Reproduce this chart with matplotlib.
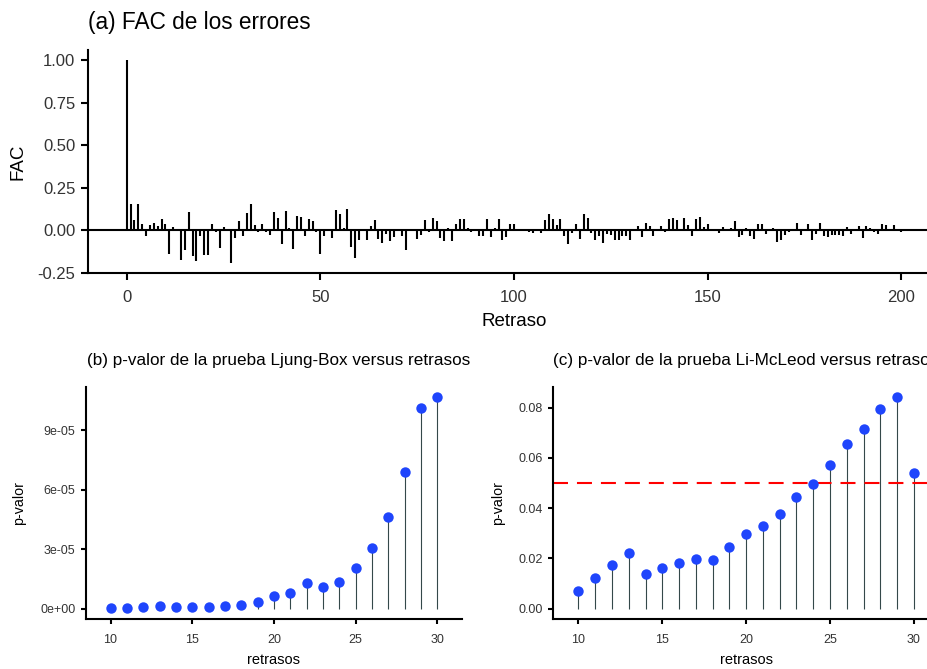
import matplotlib
matplotlib.use("Agg")
import matplotlib.pyplot as plt
import numpy as np

plt.rcParams['font.family'] = ['Liberation Sans', 'DejaVu Sans']

# FAC de los errores, retrasos 0..200
fac = [
    1.000, 0.153, 0.059, 0.157, 0.035, -0.035, 0.030, 0.045, 0.025, 0.069,
    0.035, -0.141, 0.020, 0.004, -0.176, -0.114, 0.106, -0.153, -0.180, -0.030,
    -0.143, -0.143, 0.039, -0.010, -0.104, 0.020, 0.003, -0.190, -0.045, 0.055,
    -0.035, 0.100, 0.157, 0.030, -0.010, 0.039, -0.010, -0.025, 0.106, 0.075,
    -0.078, 0.114, 0.016, -0.108, 0.086, 0.078, -0.035, 0.065, 0.057, -0.010,
    -0.140, -0.033, 0.003, -0.043, 0.118, 0.098, 0.016, 0.127, -0.100, -0.160,
    -0.059, 0.003, -0.059, 0.024, 0.059, -0.049, -0.073, -0.020, -0.065, -0.039,
    0.003, -0.030, -0.114, 0.003, -0.003, -0.053, -0.024, 0.059, -0.010, 0.073,
    0.053, -0.043, -0.063, 0.016, -0.063, 0.039, 0.069, 0.069, 0.016, -0.010,
    0.003, -0.030, -0.033, 0.069, -0.039, 0.016, 0.065, -0.055, -0.039, 0.035,
    0.035, 0.003, -0.003, 0.010, -0.010, -0.014, 0.003, -0.014, 0.063, 0.098,
    0.069, 0.033, 0.069, -0.033, -0.082, -0.014, 0.039, -0.053, 0.098, 0.075,
    -0.014, -0.055, -0.033, -0.073, -0.020, -0.025, -0.055, -0.055, -0.033, -0.035,
    -0.055, 0.003, 0.025, -0.039, 0.043, 0.025, -0.030, 0.003, 0.025, -0.010,
    0.069, 0.073, 0.059, 0.010, 0.073, 0.030, -0.030, 0.069, 0.078, 0.020,
    0.035, 0.003, 0.008, -0.014, 0.020, 0.003, 0.016, 0.055, -0.039, -0.025,
    0.016, -0.035, -0.049, 0.039, 0.035, -0.020, 0.003, 0.016, -0.069, -0.055,
    -0.025, -0.010, 0.003, 0.043, -0.025, 0.003, 0.039, -0.059, -0.020, 0.045,
    -0.033, -0.039, -0.025, -0.025, -0.025, -0.035, 0.020, -0.020, 0.003, 0.025,
    -0.045, 0.025, 0.014, -0.010, -0.020, 0.039, 0.030, 0.003, 0.033, 0.003,
    -0.010,
]
retraso = np.arange(len(fac))

# p-valores por retraso
retrasos = list(range(10, 31))
p_ljung = [3e-7, 3e-7, 8e-7, 1.2e-6, 7e-7, 7e-7, 7e-7, 1.2e-6, 2.0e-6, 3.3e-6,
           6.2e-6, 8.0e-6, 1.32e-5, 1.09e-5, 1.37e-5, 2.04e-5, 3.04e-5, 4.62e-5,
           6.89e-5, 1.012e-4, 1.065e-4]
p_mcleod = [0.0070, 0.0123, 0.0172, 0.0223, 0.0139, 0.0161, 0.0180, 0.0198,
            0.0195, 0.0246, 0.0296, 0.0330, 0.0378, 0.0446, 0.0498, 0.0572,
            0.0656, 0.0716, 0.0796, 0.0841, 0.0540]
nivel = 0.05

W, H = 927, 669
fig = plt.figure(figsize=(W / 100, H / 100), dpi=100)
tick_col = '#333333'


def px_axes(l, t, r, b):
    return fig.add_axes([l / W, 1 - b / H, (r - l) / W, (b - t) / H])


def estilo(ax, lw, tl, fs, pad):
    for s in ['top', 'right']:
        ax.spines[s].set_visible(False)
    for s in ['left', 'bottom']:
        ax.spines[s].set_linewidth(lw)
    ax.tick_params(width=lw, length=tl, labelsize=fs, labelcolor=tick_col, pad=pad)


# (a) FAC
ax = px_axes(88, 50, 940, 273)
ax.vlines(retraso, 0, fac, color='black', linewidth=1.5)
ax.axhline(0, color='black', linewidth=1.5)
ax.set_xlim(-10, 210)
lo, hi = min(fac), max(fac)
ax.set_ylim(lo - 0.05 * (hi - lo), hi + 0.05 * (hi - lo))
ax.set_yticks([-0.25, 0, 0.25, 0.5, 0.75, 1.0])
ax.set_yticklabels(['-0.25', '0.00', '0.25', '0.50', '0.75', '1.00'])
ax.set_xticks([0, 50, 100, 150, 200])
estilo(ax, 1.5, 5, 12, 4)
ax.tick_params(axis='x', pad=7)
ax.set_ylabel('FAC', fontsize=13.5, labelpad=8)
ax.set_xlabel('Retraso', fontsize=13.5, labelpad=6)
fig.text(88 / W, 1 - 22 / H, '(a) FAC de los errores', fontsize=16.3, va='center', ha='left')

# (b) Ljung-Box
stem_col = '#34484A'
dot_col = '#1F45FC'
bx = px_axes(86, 386.7, 461.7, 619.3)
bx.vlines(retrasos, 0, p_ljung, color=stem_col, linewidth=0.8)
bx.plot(retrasos, p_ljung, 'o', color=dot_col, markersize=7.5, markeredgewidth=0)
bx.set_xlim(8.5, 31.5)
hi = max(p_ljung)
bx.set_ylim(-0.05 * hi, 1.05 * hi)
bx.set_yticks([0, 3e-5, 6e-5, 9e-5])
bx.set_yticklabels(['0e+00', '3e-05', '6e-05', '9e-05'])
bx.set_xticks([10, 15, 20, 25, 30])
estilo(bx, 1.5, 3.5, 9, 4)
bx.tick_params(axis='x', pad=7)
bx.set_ylabel('p-valor', fontsize=10.3, labelpad=10)
bx.set_xlabel('retrasos', fontsize=10.5, labelpad=5)
fig.text(87 / W, 1 - 360 / H, '(b) p-valor de la prueba Ljung-Box versus retrasos',
         fontsize=12.3, va='center', ha='left')

# (c) Li-McLeod
cx = px_axes(553.3, 386.7, 939, 619.3)
cx.vlines(retrasos, 0, p_mcleod, color=stem_col, linewidth=0.8)
cx.axhline(nivel, color='#FF0000', linewidth=1.5, linestyle=(0, (7.2, 4.3)))
cx.plot(retrasos, p_mcleod, 'o', color=dot_col, markersize=7.5, markeredgewidth=0, zorder=3)
cx.set_xlim(8.5, 31.5)
hi = max(p_mcleod)
cx.set_ylim(-0.05 * hi, 1.05 * hi)
cx.set_yticks([0, 0.02, 0.04, 0.06, 0.08])
cx.set_yticklabels(['0.00', '0.02', '0.04', '0.06', '0.08'])
cx.set_xticks([10, 15, 20, 25, 30])
estilo(cx, 1.5, 3.5, 9, 4)
cx.tick_params(axis='x', pad=7)
cx.set_ylabel('p-valor', fontsize=10.3, labelpad=10)
cx.set_xlabel('retrasos', fontsize=10.5, labelpad=5)
fig.text(553.3 / W, 1 - 360 / H, '(c) p-valor de la prueba Li-McLeod versus retrasos',
         fontsize=12.3, va='center', ha='left')

fig.savefig('out.png', dpi=100)
